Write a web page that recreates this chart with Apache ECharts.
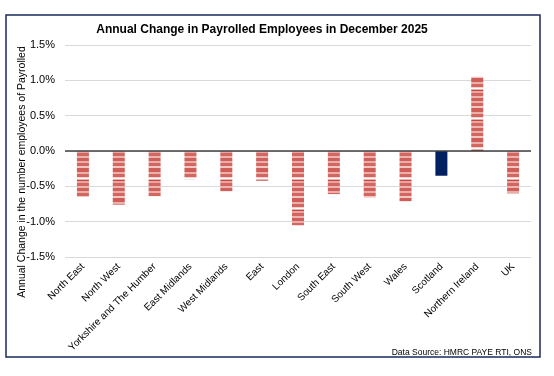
<!DOCTYPE html>
<html>
<head>
    <meta charset="utf-8">
    <title>ECharts</title>
    <script src="https://cdn.jsdelivr.net/npm/echarts@6/dist/echarts.min.js"></script>
    <style>body{margin:0;background:#fff;}</style>
</head>
<body>
    <div id="main" style="width: 554px;height:376px;"></div>
    <script type="text/javascript">
        var myChart = echarts.init(document.getElementById('main'));

        var regions = ['North East', 'North West', 'Yorkshire and The Humber', 'East Midlands',
            'West Midlands', 'East', 'London', 'South East', 'South West', 'Wales',
            'Scotland', 'Northern Ireland', 'UK'];
        var change = [-0.65, -0.76, -0.64, -0.40, -0.57, -0.42, -1.05, -0.61, -0.66, -0.71, -0.35, 1.05, -0.60];
        var yTicks = [-1.5, -1.0, -0.5, 0.0, 0.5, 1.0, 1.5];

        // striped red fill, like the original's picture-filled bars
        var bands = [
            ['#c9473f', 1], ['#e6a7a3', 2], ['#d4665f', 3], ['#eab5b1', 2], ['#d1605a', 3],
            ['#e8aeaa', 2], ['#d4665f', 3], ['#f0c6c3', 2], ['#d05e58', 4], ['#e9b0ac', 2],
            ['#d4665f', 3], ['#f3d3d1', 1], ['#ffffff', 1], ['#e9b0ac', 1]
        ];
        var stripe = document.createElement('canvas');
        stripe.width = 4;
        stripe.height = bands.reduce(function (s, b) { return s + b[1]; }, 0);
        var sctx = stripe.getContext('2d');
        var yy = 0;
        bands.forEach(function (b) {
            sctx.fillStyle = b[0];
            sctx.fillRect(0, yy, 4, b[1]);
            yy += b[1];
        });

        var font = 'Liberation Sans, Arial, sans-serif';

        var option = {
            backgroundColor: '#fff',
            animation: false,
            textStyle: { fontFamily: font },
            title: {
                text: 'Annual Change in Payrolled Employees in December 2025',
                left: 257,
                top: 19,
                textAlign: 'center',
                textStyle: { fontSize: 12, fontWeight: 'bold', color: '#000' }
            },
            graphic: [{
                type: 'rect',
                shape: { x: 6, y: 15, width: 534, height: 342 },
                style: { fill: 'none', stroke: '#1b2a5c', lineWidth: 1.5 },
                silent: true,
                z: 10
            }, {
                type: 'text',
                x: 22,
                y: 172,
                rotation: Math.PI / 2,
                style: {
                    text: 'Annual Change in the number employees of Payrolled',
                    fontSize: 10.5, fill: '#000', fontFamily: font,
                    align: 'center', verticalAlign: 'middle'
                }
            }, {
                type: 'text',
                right: 22,
                top: 348,
                style: { text: 'Data Source: HMRC PAYE RTI, ONS', fontSize: 8.5, fill: '#000',
                    fontFamily: font }
            }],
            grid: { left: 65, right: 23, top: 45, bottom: 119, outerBoundsMode: 'none' },
            xAxis: {
                type: 'category',
                data: regions,
                axisTick: { show: false },
                axisLine: { show: false, onZero: false },
                axisLabel: { rotate: 45, interval: 0, fontSize: 10, color: '#000', margin: 8 }
            },
            yAxis: {
                type: 'value',
                min: yTicks[0],
                max: yTicks[yTicks.length - 1],
                interval: 0.5,
                axisLabel: {
                    fontSize: 11, color: '#000', margin: 10,
                    formatter: function (v) { return v.toFixed(1) + '%'; }
                },
                splitLine: { lineStyle: { color: '#d9d9d9', width: 1 } }
            },
            series: [{
                type: 'bar',
                barWidth: 12,
                data: change.map(function (v, i) {
                    return {
                        value: v,
                        itemStyle: regions[i] === 'Scotland'
                            ? { color: '#002060' }
                            : { color: { image: stripe, repeat: 'repeat' } }
                    };
                }),
                markLine: {
                    silent: true,
                    symbol: 'none',
                    label: { show: false },
                    lineStyle: { color: '#404040', width: 1.5, type: 'solid' },
                    data: [{ yAxis: 0 }]
                }
            }]
        };

        myChart.setOption(option);
    </script>
</body>
</html>
